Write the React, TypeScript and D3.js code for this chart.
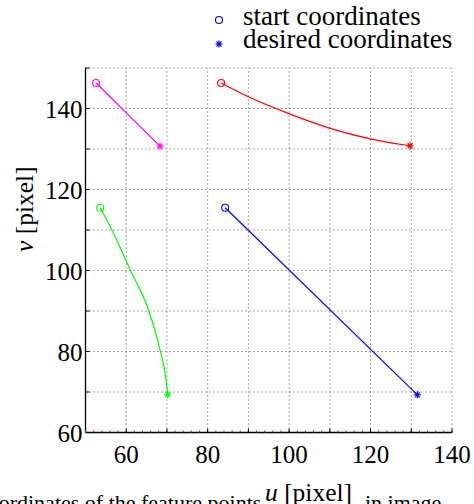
import React from "react";
import * as d3 from "d3";

const uTicks = [60, 80, 100, 120, 140];
const vTicks = [60, 80, 100, 120, 140];
const uGrid = [60, 70, 80, 90, 100, 110, 120, 130, 140];
const vGrid = [70, 80, 90, 100, 110, 120, 130, 140, 150];

const magentaU = [52.6, 68.3];
const magentaV = [146.3, 130.7];
const redU = [83.3, 90.0, 99.8, 110.1, 119.9, 129.7];
const redV = [146.3, 142.9, 138.8, 135.1, 132.5, 130.8];
const greenU = [53.6, 56.5, 61.0, 65.5, 68.3, 69.8, 70.2];
const greenV = [115.5, 110.0, 100.1, 90.2, 80.4, 73.0, 69.3];
const blueU = [84.3, 131.5];
const blueV = [115.5, 69.3];

const seriesColors = ["#ff00ff", "#ff0000", "#00ff00", "#0000ff"];
const legendLabels = ["start coordinates", "desired coordinates"];
const captionLeft = "Coordinates of the feature points";
const captionRight = "in image";

const W = 474;
const H = 504;
const FONT = '"Liberation Serif"';

function Star({ x, y, c, s = 3.5 }: { x: number; y: number; c: string; s?: number }) {
  const d = s * 0.707;
  return (
    <g stroke={c} strokeWidth={1.2}>
      <line x1={x - s} y1={y} x2={x + s} y2={y} />
      <line x1={x} y1={y - s} x2={x} y2={y + s} />
      <line x1={x - d} y1={y - d} x2={x + d} y2={y + d} />
      <line x1={x - d} y1={y + d} x2={x + d} y2={y - d} />
    </g>
  );
}

function T(props: any) {
  const { size, children, ...rest } = props;
  return (
    <text {...rest} fill="#000" style={{ fontFamily: FONT, fontSize: `${size}px` }}>
      {children}
    </text>
  );
}

export default function App() {
  const x = d3.scaleLinear().domain([50, 140]).range([85.5, 452]);
  const y = d3.scaleLinear().domain([60, 150]).range([432.5, 68]);

  const series = [
    { u: magentaU, v: magentaV, curved: false },
    { u: redU, v: redV, curved: true },
    { u: greenU, v: greenV, curved: true },
    { u: blueU, v: blueV, curved: false },
  ];

  const minorU = d3.range(50, 141, 2);

  return (
    <svg width={W} height={H} style={{ position: "absolute", left: 0, top: 0, background: "#fff" }}>
      {/* grid */}
      <g stroke="#000" strokeWidth={1} strokeDasharray="1,3" opacity={0.7}>
        {uGrid.map((g) => (
          <line key={"gx" + g} x1={x(g)} x2={x(g)} y1={y(60)} y2={y(150)} />
        ))}
        {vGrid.map((g) => (
          <line key={"gy" + g} x1={x(50)} x2={x(140)} y1={y(g)} y2={y(g)} />
        ))}
      </g>

      {/* axes */}
      <g stroke="#000" strokeWidth={1.3}>
        <line x1={x(50)} x2={x(50)} y1={y(60)} y2={y(150)} />
        <line x1={x(50)} x2={x(140)} y1={y(60)} y2={y(60)} />
      </g>
      <g stroke="#555" strokeWidth={0.8}>
        {minorU.map((m) => (
          <line key={"mu" + m} x1={x(m)} x2={x(m)} y1={y(60)} y2={y(60) - 2.5} />
        ))}
      </g>
      <g stroke="#000" strokeWidth={1}>
        {vGrid.map((g) => (
          <line key={"tv" + g} x1={x(50)} x2={x(50) + 4} y1={y(g)} y2={y(g)} />
        ))}
        {uGrid.map((g) => (
          <line key={"tu" + g} x1={x(g)} x2={x(g)} y1={y(60)} y2={y(60) - 4} />
        ))}
      </g>

      {/* tick labels */}
      {vTicks.map((t) => (
        <T key={"lv" + t} size={25} x={x(50) - 3} y={y(t) + 9} textAnchor="end">
          {t}
        </T>
      ))}
      {uTicks.map((t) => (
        <T key={"lu" + t} size={25} x={x(t)} y={y(60) + 30} textAnchor="middle">
          {t}
        </T>
      ))}

      {/* series */}
      {series.map((s, i) => {
        const pts = s.u.map((u, k) => [u, s.v[k]] as [number, number]);
        const line = d3
          .line<[number, number]>()
          .x((d) => x(d[0]))
          .y((d) => y(d[1]))
          .curve(s.curved ? d3.curveMonotoneX : d3.curveLinear);
        const first = pts[0];
        const last = pts[pts.length - 1];
        return (
          <g key={"s" + i}>
            <path d={line(pts) || ""} fill="none" stroke={seriesColors[i]} strokeWidth={1.2} />
            <circle cx={x(first[0])} cy={y(first[1])} r={3.5} fill="none" stroke={seriesColors[i]} strokeWidth={1.1} />
            <Star x={x(last[0])} y={y(last[1])} c={seriesColors[i]} />
          </g>
        );
      })}

      {/* legend */}
      <circle cx={219} cy={20} r={3.5} fill="none" stroke="#0000ff" strokeWidth={1.2} />
      <Star x={219} y={44} c="#0000ff" s={3.5} />
      <T size={27} x={243} y={25}>
        {legendLabels[0]}
      </T>
      <T size={27} x={243} y={48}>
        {legendLabels[1]}
      </T>

      {/* caption (cut off at the bottom edge) */}
      <T size={22} x={-27} y={510}>
        {captionLeft}
      </T>
      <T size={22} x={365} y={510}>
        {captionRight}
      </T>

      {/* axis labels */}
      <T size={25.5} x={265} y={501}>
        <tspan fontStyle="italic">u</tspan> [pixel]
      </T>
      <T size={25.5} transform="translate(33,252) rotate(-90)">
        <tspan fontStyle="italic">v</tspan> [pixel]
      </T>
    </svg>
  );
}
